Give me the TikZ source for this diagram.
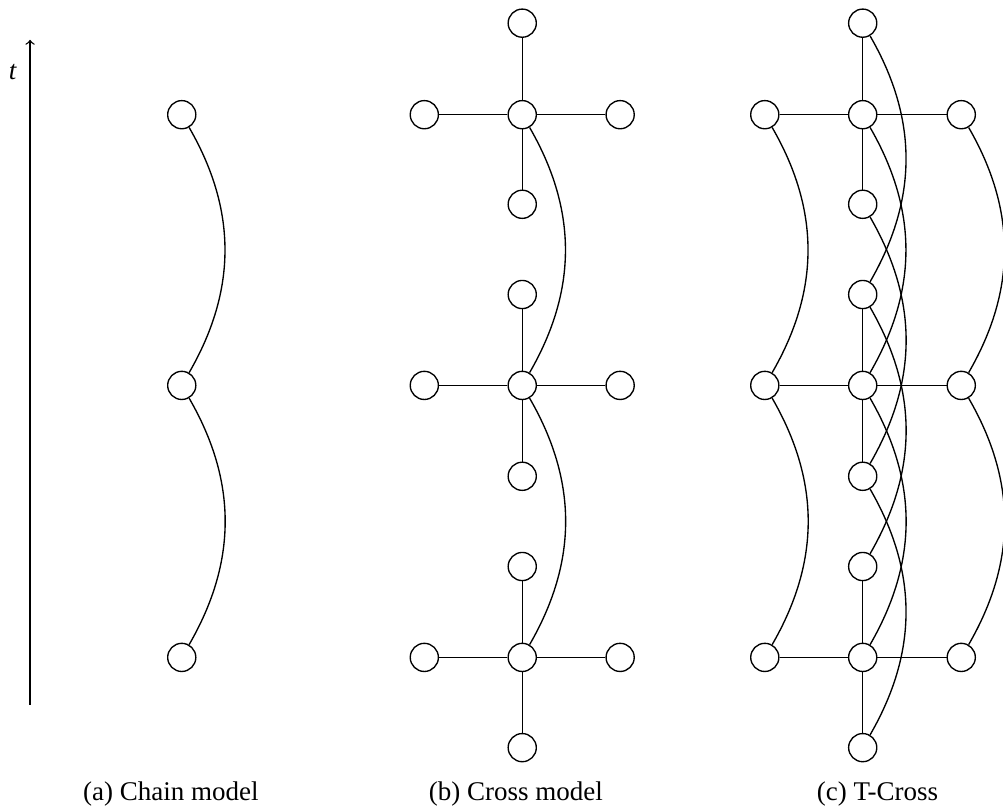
\documentclass[tikz,border=0pt]{standalone}
\usepackage{fontspec}
\setmainfont{Liberation Serif}
\tikzset{
    unit/.style = {draw, circle, fill=white, semithick, minimum size=0.44cm, inner sep=0pt},
    link/.style = {semithick},
    hop/.style = {semithick, bend left=30},
    caption/.style = {font=\fontsize{12}{14}\selectfont},
}

\begin{document}
\begin{tikzpicture}
\useasboundingbox (0,0) rectangle (15.672,12.672);
% time axis
\coordinate (tbot) at (0.47,1.66);
\coordinate (ttop) at (0.47,12.05);
\draw[->, semithick] (tbot) -- (ttop);
\node[caption] (tlabel) at (0.2,11.55) {\textit{t}};

% (a) chain
\node[unit] (a1) at (2.84,10.88) {};
\node[unit] (a2) at (2.84,6.65) {};
\node[unit] (a3) at (2.84,2.40) {};
\draw[hop] (a1) to (a2);
\draw[hop] (a2) to (a3);
\node[caption] (capa) at (2.67,0.27) {(a) Chain model};

% (b) cross
\node[unit] (bt1) at (8.16,12.31) {};
\node[unit] (bc1) at (8.16,10.88) {};
\node[unit] (bb1) at (8.16,9.48) {};
\node[unit] (bl1) at (6.63,10.88) {};
\node[unit] (br1) at (9.69,10.88) {};
\node[unit] (bt2) at (8.16,8.07) {};
\node[unit] (bc2) at (8.16,6.65) {};
\node[unit] (bb2) at (8.16,5.23) {};
\node[unit] (bl2) at (6.63,6.65) {};
\node[unit] (br2) at (9.69,6.65) {};
\node[unit] (bt3) at (8.16,3.82) {};
\node[unit] (bc3) at (8.16,2.40) {};
\node[unit] (bb3) at (8.16,0.99) {};
\node[unit] (bl3) at (6.63,2.40) {};
\node[unit] (br3) at (9.69,2.40) {};
\draw[link] (bt1) -- (bc1) -- (bb1);
\draw[link] (bl1) -- (bc1) -- (br1);
\draw[link] (bt2) -- (bc2) -- (bb2);
\draw[link] (bl2) -- (bc2) -- (br2);
\draw[link] (bt3) -- (bc3) -- (bb3);
\draw[link] (bl3) -- (bc3) -- (br3);
\draw[hop] (bc1) to (bc2);
\draw[hop] (bc2) to (bc3);
\node[caption] (capb) at (8.06,0.27) {(b) Cross model};

% (c) T-Cross
\node[unit] (c0) at (13.48,12.31) {};
\node[unit] (c1) at (13.48,10.88) {};
\node[unit] (c2) at (13.48,9.48) {};
\node[unit] (c3) at (13.48,8.07) {};
\node[unit] (c4) at (13.48,6.65) {};
\node[unit] (c5) at (13.48,5.23) {};
\node[unit] (c6) at (13.48,3.82) {};
\node[unit] (c7) at (13.48,2.40) {};
\node[unit] (c8) at (13.48,0.99) {};
\node[unit] (cl1) at (11.95,10.88) {};
\node[unit] (cl2) at (11.95,6.65) {};
\node[unit] (cl3) at (11.95,2.40) {};
\node[unit] (cr1) at (15.02,10.88) {};
\node[unit] (cr2) at (15.02,6.65) {};
\node[unit] (cr3) at (15.02,2.40) {};
\draw[link] (c0) -- (c1) -- (c2);
\draw[link] (c3) -- (c4) -- (c5);
\draw[link] (c6) -- (c7) -- (c8);
\draw[link] (cl1) -- (c1) -- (cr1);
\draw[link] (cl2) -- (c4) -- (cr2);
\draw[link] (cl3) -- (c7) -- (cr3);
\draw[hop] (cl1) to (cl2);
\draw[hop] (cl2) to (cl3);
\draw[hop] (cr1) to (cr2);
\draw[hop] (cr2) to (cr3);
\draw[hop] (c0) to (c3);
\draw[hop] (c1) to (c4);
\draw[hop] (c2) to (c5);
\draw[hop] (c3) to (c6);
\draw[hop] (c4) to (c7);
\draw[hop] (c5) to (c8);
\node[caption] (capc) at (13.71,0.27) {(c) T-Cross};
\end{tikzpicture}
\end{document}
